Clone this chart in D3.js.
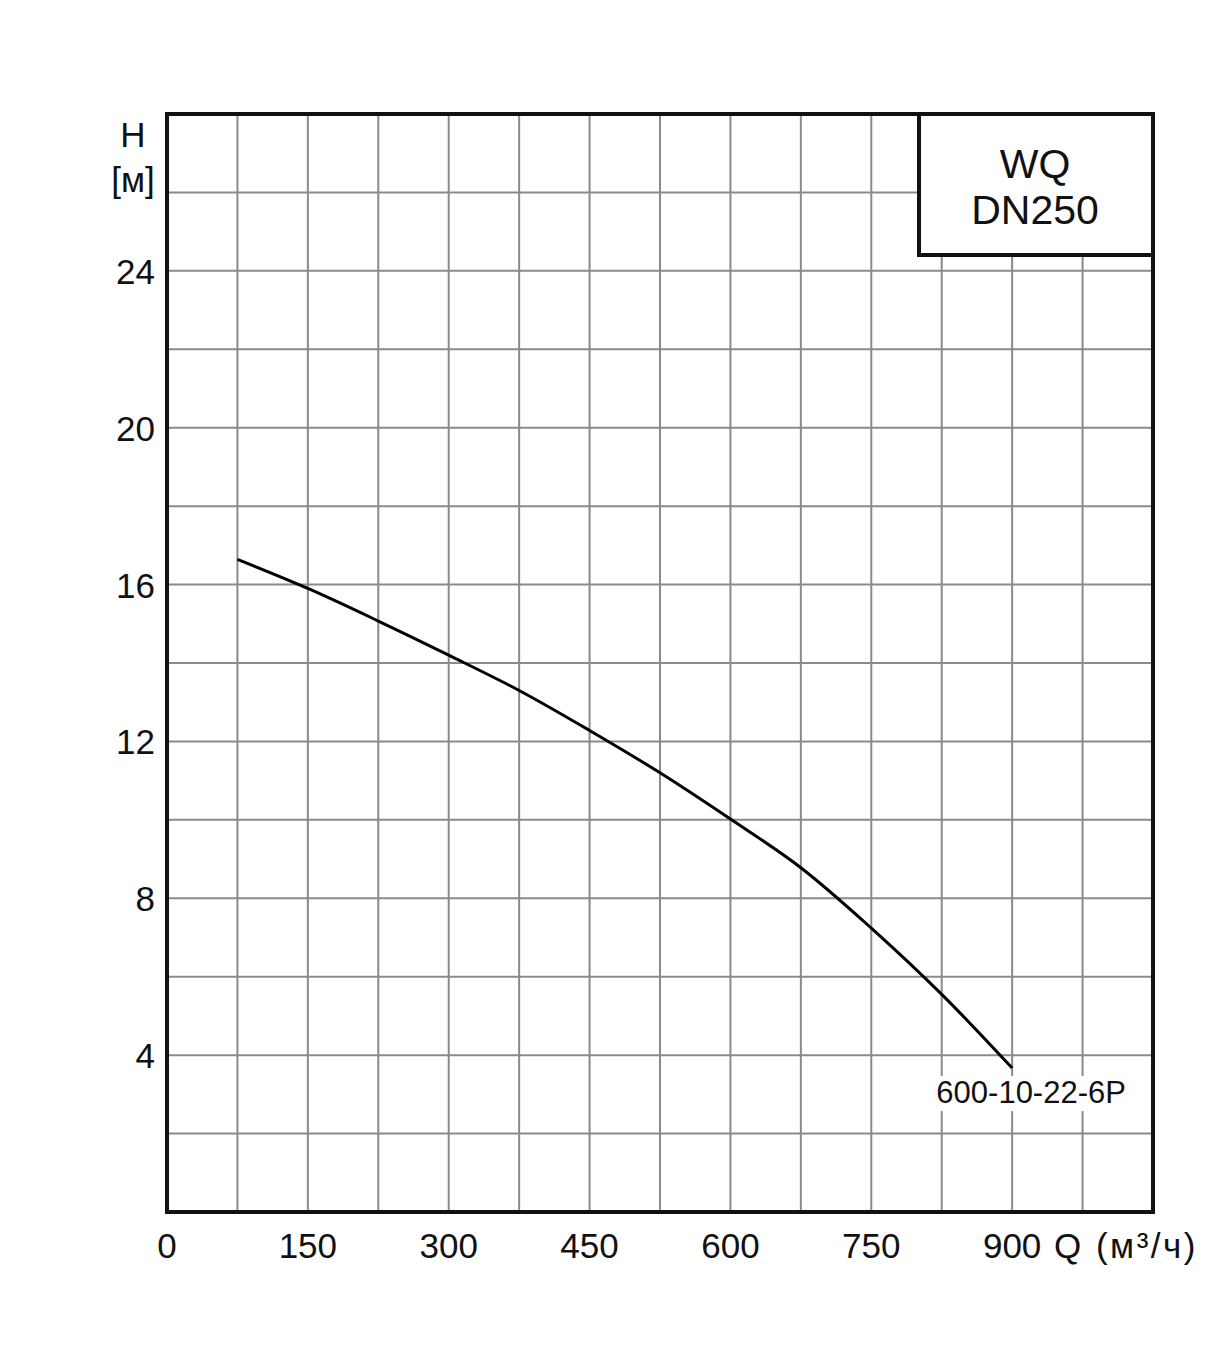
<!DOCTYPE html>
<html lang="ru">
<head>
	<meta charset="UTF-8">
	<title>WQ DN250</title>
	<script src="https://cdn.jsdelivr.net/npm/d3@7/dist/d3.min.js"></script>
	<style>
		body { margin: 0; background: #fff; }
		text { font-family: "Liberation Sans", Arial, sans-serif; fill: #111; }
	</style>
</head>
<body>
	<div id="container"></div>
	<script>
		var width = 1231;
		var height = 1359;

		// curve 600-10-22-6P, Q in m3/h, H in m
		var flow = [75, 150, 225, 300, 375, 450, 525, 600, 675, 750, 825, 900];
		var head = [16.64, 15.9, 15.07, 14.2, 13.3, 12.28, 11.2, 10.02, 8.78, 7.24, 5.55, 3.67];
		var xTicks = [0, 150, 300, 450, 600, 750, 900];
		var yTicks = [4, 8, 12, 16, 20, 24];
		var curveName = "600-10-22-6P";

		var svg = d3.select("#container").append("svg")
			.attr("width", width)
			.attr("height", height);

		var x = d3.scaleLinear().domain([0, 1050]).range([167, 1153]);
		var y = d3.scaleLinear().domain([0, 28]).range([1212, 114]);

		// grid
		svg.selectAll(".vgrid").data(d3.range(75, 1050, 75))
			.enter().append("line")
				.attr("x1", d => x(d)).attr("x2", d => x(d))
				.attr("y1", y(0)).attr("y2", y(28))
				.style("stroke", "#8a8a8a").style("stroke-width", 2);
		svg.selectAll(".hgrid").data(d3.range(2, 28, 2))
			.enter().append("line")
				.attr("x1", x(0)).attr("x2", x(1050))
				.attr("y1", d => y(d)).attr("y2", d => y(d))
				.style("stroke", "#8a8a8a").style("stroke-width", 2);

		// curve
		var line = d3.line()
			.x((d, i) => x(flow[i]))
			.y(d => y(d))
			.curve(d3.curveCatmullRom);
		svg.append("path")
			.datum(head)
			.attr("d", line)
			.attr("fill", "none")
			.style("stroke", "#000")
			.style("stroke-width", 3);

		// curve label with white backing
		var lx = x(900) + 19, ly = y(3.67) + 35;
		svg.append("rect")
			.attr("x", lx - 96).attr("y", ly - 27)
			.attr("width", 192).attr("height", 35)
			.attr("fill", "#fff");
		svg.append("text")
			.attr("x", lx).attr("y", ly)
			.attr("text-anchor", "middle")
			.style("font-size", "31px")
			.text(curveName);

		// frame
		svg.append("rect")
			.attr("x", x(0)).attr("y", y(28))
			.attr("width", x(1050) - x(0)).attr("height", y(0) - y(28))
			.attr("fill", "none")
			.style("stroke", "#111").style("stroke-width", 4);

		// title box
		svg.append("rect")
			.attr("x", 919).attr("y", y(28))
			.attr("width", x(1050) - 919).attr("height", 141)
			.attr("fill", "#fff")
			.style("stroke", "#111").style("stroke-width", 4);
		svg.append("text")
			.attr("x", 1035).attr("y", 178)
			.attr("text-anchor", "middle")
			.style("font-size", "41px")
			.text("WQ");
		svg.append("text")
			.attr("x", 1035).attr("y", 224)
			.attr("text-anchor", "middle")
			.style("font-size", "41px")
			.text("DN250");

		// axis labels
		svg.selectAll(".xlab").data(xTicks)
			.enter().append("text")
				.attr("x", d => x(d)).attr("y", 1258)
				.attr("text-anchor", "middle")
				.style("font-size", "35px")
				.text(d => d);
		svg.selectAll(".ylab").data(yTicks)
			.enter().append("text")
				.attr("x", 155).attr("y", d => y(d) + 13)
				.attr("text-anchor", "end")
				.style("font-size", "35px")
				.text(d => d);

		svg.append("text")
			.attr("x", 133).attr("y", 147)
			.attr("text-anchor", "middle")
			.style("font-size", "35px")
			.text("H");
		svg.append("text")
			.attr("x", 133).attr("y", 192)
			.attr("text-anchor", "middle")
			.style("font-size", "35px")
			.text("[м]");
		svg.append("text")
			.attr("x", 1054).attr("y", 1258)
			.style("font-size", "35px")
			.style("letter-spacing", "2.5px")
			.text("Q (м³/ч)");
	</script>
</body>
</html>
